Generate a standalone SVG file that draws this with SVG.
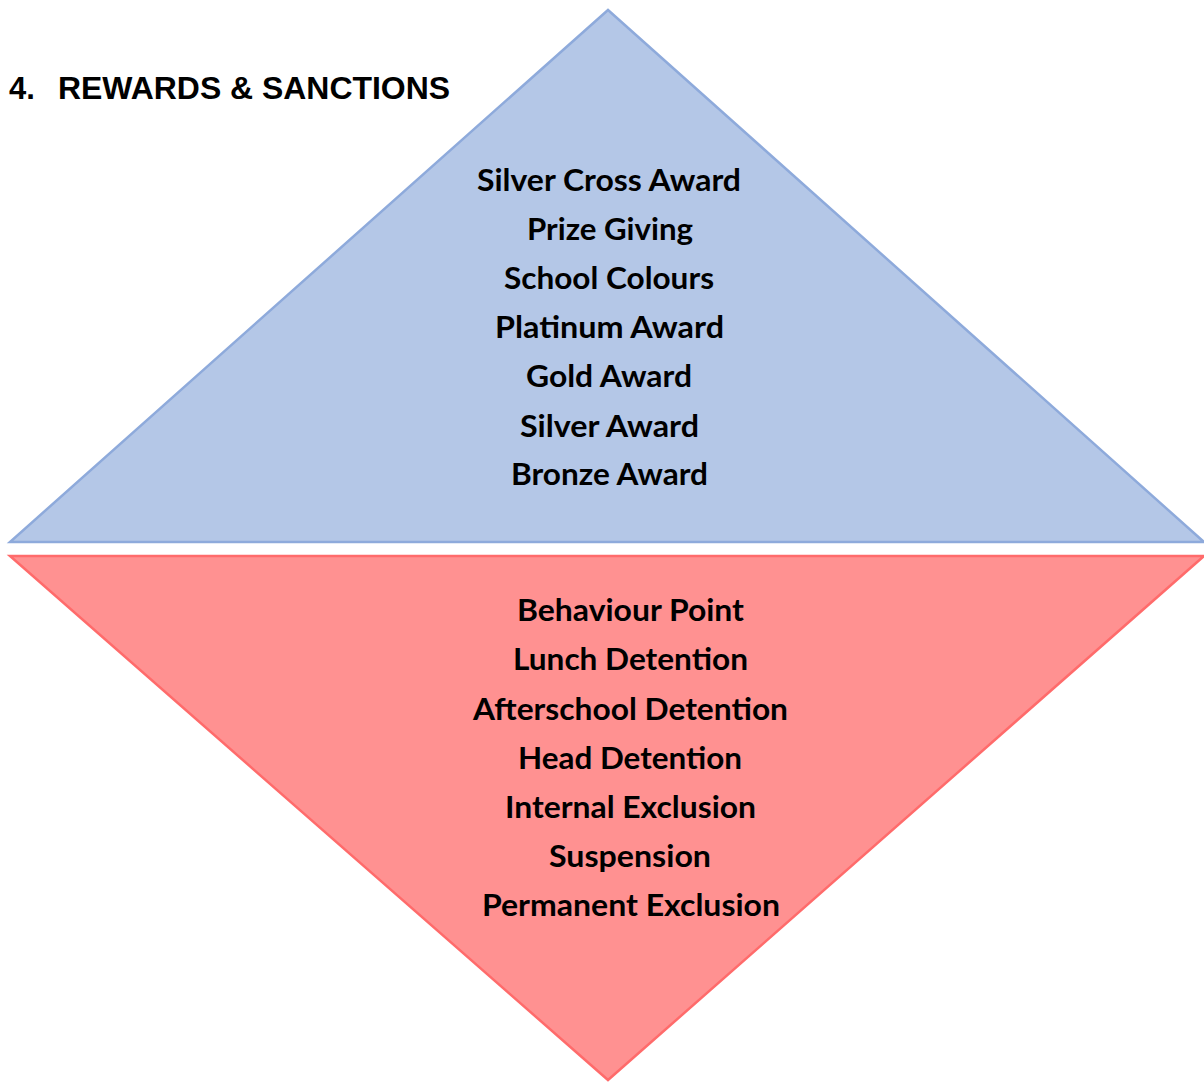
<svg xmlns="http://www.w3.org/2000/svg" width="1204" height="1082" viewBox="0 0 1204 1082">
<style>
.t{font-family:Lato,"Open Sans","Liberation Sans",sans-serif;font-weight:bold;font-size:30px;fill:#000;text-anchor:middle}
.h{font-family:"Liberation Sans",Arial,sans-serif;font-weight:bold;font-size:31px;fill:#000}
</style>
<rect width="1204" height="1082" fill="#fff"/>
<g id="rewards">
<polygon points="608,10 1204,542 10,542" fill="#b4c7e7" stroke="#8eaadb" stroke-width="2.5" stroke-linejoin="miter"/>
<text class="t" x="609" y="191" textLength="264" lengthAdjust="spacingAndGlyphs">Silver Cross Award</text>
<text class="t" x="610" y="240" textLength="166" lengthAdjust="spacingAndGlyphs">Prize Giving</text>
<text class="t" x="609" y="289" textLength="210" lengthAdjust="spacingAndGlyphs">School Colours</text>
<text class="t" x="609.5" y="338" textLength="229" lengthAdjust="spacingAndGlyphs">Platinum Award</text>
<text class="t" x="609" y="387" textLength="166" lengthAdjust="spacingAndGlyphs">Gold Award</text>
<text class="t" x="609.5" y="437" textLength="179" lengthAdjust="spacingAndGlyphs">Silver Award</text>
<text class="t" x="609.5" y="485" textLength="197" lengthAdjust="spacingAndGlyphs">Bronze Award</text>
</g>
<g id="sanctions">
<polygon points="10,556 1204,556 608,1080" fill="#ff9191" stroke="#ff6b6b" stroke-width="2.5"/>
<text class="t" x="630.5" y="621" textLength="227" lengthAdjust="spacingAndGlyphs">Behaviour Point</text>
<text class="t" x="630.5" y="670" textLength="235" lengthAdjust="spacingAndGlyphs">Lunch Detention</text>
<text class="t" x="630.5" y="720" textLength="315" lengthAdjust="spacingAndGlyphs">Afterschool Detention</text>
<text class="t" x="630" y="769" textLength="224" lengthAdjust="spacingAndGlyphs">Head Detention</text>
<text class="t" x="630.5" y="818" textLength="251" lengthAdjust="spacingAndGlyphs">Internal Exclusion</text>
<text class="t" x="630" y="867" textLength="162" lengthAdjust="spacingAndGlyphs">Suspension</text>
<text class="t" x="631" y="916" textLength="298" lengthAdjust="spacingAndGlyphs">Permanent Exclusion</text>
</g>
<g id="title">
<text class="h" x="9" y="99">4.</text>
<text class="h" x="58" y="99" textLength="392" lengthAdjust="spacingAndGlyphs">REWARDS &amp; SANCTIONS</text>
</g>
<g id="connectors"/>
</svg>
